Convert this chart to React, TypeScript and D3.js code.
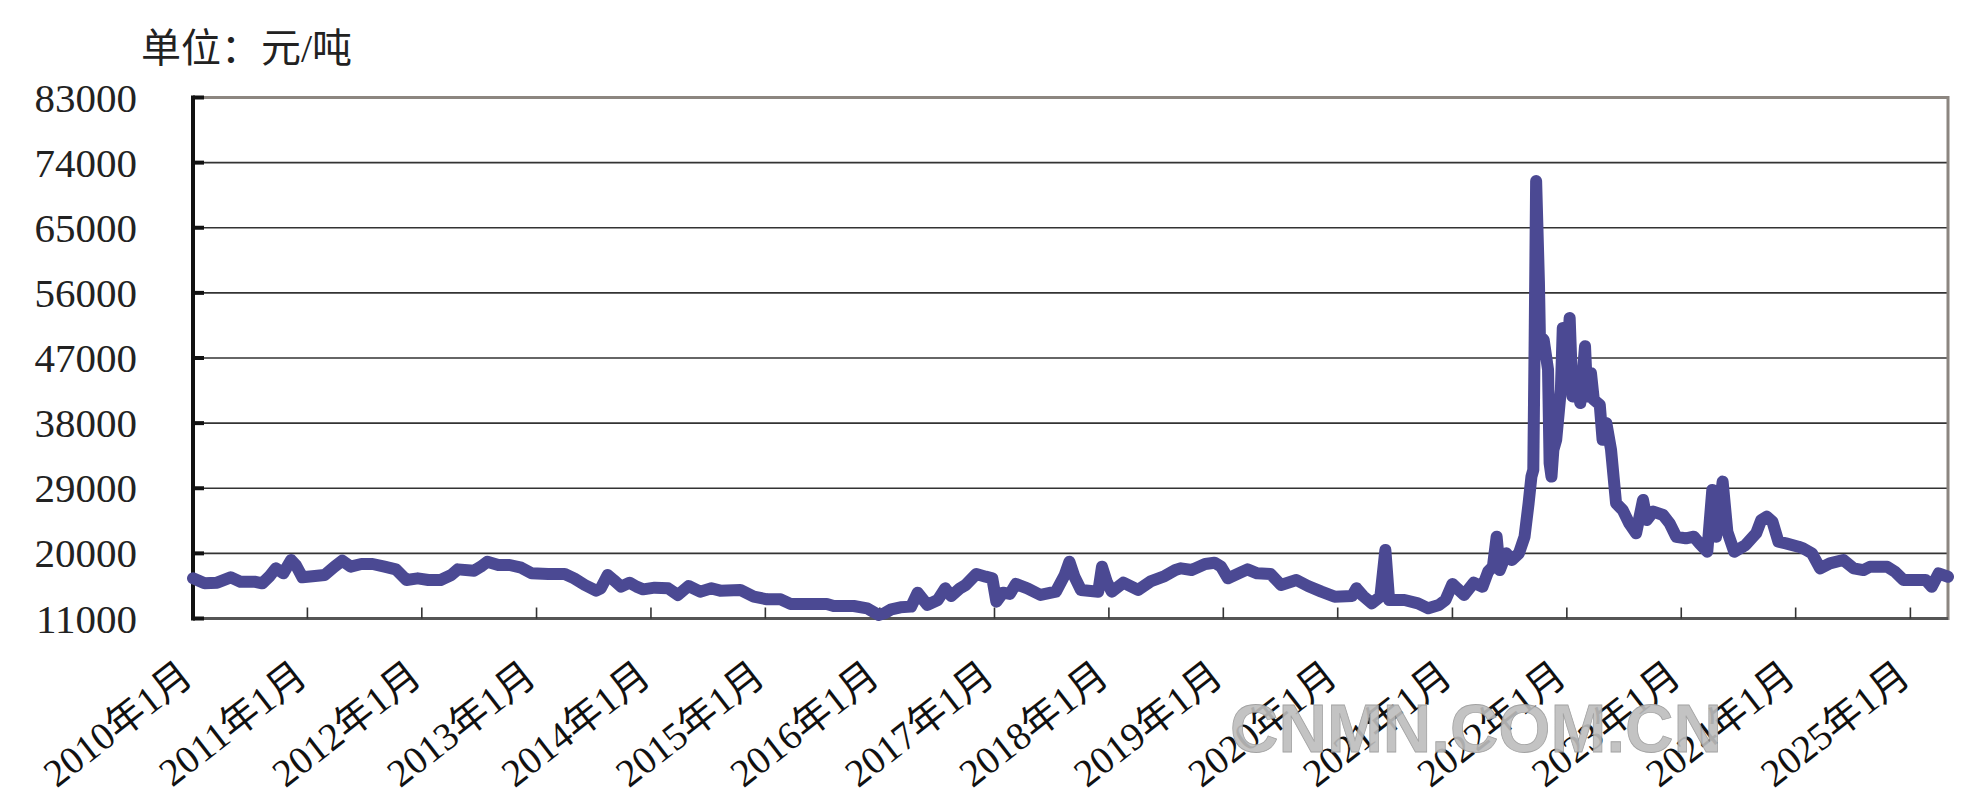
import React from "react";
import * as d3 from "d3";

const dates: string[] = [
  "2010-01-01","2010-02-07","2010-03-19","2010-05-01","2010-06-01","2010-07-16","2010-08-10","2010-09-01","2010-09-22","2010-10-16",
  "2010-11-10","2010-11-25","2010-12-16","2011-01-25","2011-02-25","2011-03-28","2011-04-22","2011-05-19","2011-06-22","2011-07-28",
  "2011-09-04","2011-10-10","2011-11-13","2011-12-19","2012-01-22","2012-03-01","2012-04-04","2012-04-25","2012-06-16","2012-07-07",
  "2012-07-28","2012-09-01","2012-10-07","2012-11-13","2012-12-16","2013-02-07","2013-04-01","2013-05-01","2013-06-04","2013-07-10",
  "2013-07-25","2013-08-16","2013-09-04","2013-09-28","2013-10-25","2013-11-16","2013-12-07","2014-01-13","2014-02-25","2014-03-28",
  "2014-05-01","2014-06-07","2014-07-13","2014-08-10","2014-10-13","2014-11-25","2015-01-07","2015-02-19","2015-03-22","2015-07-16",
  "2015-08-07","2015-10-10","2015-11-22","2015-12-28","2016-01-16","2016-02-07","2016-03-07","2016-04-10","2016-05-01","2016-06-01",
  "2016-07-04","2016-07-28","2016-08-16","2016-09-13","2016-10-01","2016-11-04","2016-12-04","2016-12-25","2017-01-07","2017-01-28",
  "2017-02-19","2017-03-10","2017-04-16","2017-05-28","2017-07-16","2017-08-13","2017-08-28","2017-09-13","2017-10-04","2017-11-28",
  "2017-12-10","2017-12-25","2018-01-10","2018-02-16","2018-04-04","2018-05-16","2018-06-28","2018-08-01","2018-08-19","2018-09-22",
  "2018-11-04","2018-12-04","2018-12-25","2019-01-16","2019-02-19","2019-03-19","2019-04-19","2019-06-01","2019-07-04","2019-08-22",
  "2019-09-28","2019-11-10","2019-12-22","2020-02-16","2020-03-01","2020-03-22","2020-04-19","2020-05-16","2020-06-01","2020-06-13",
  "2020-08-01","2020-09-13","2020-10-16","2020-11-19","2020-12-10","2021-01-01","2021-01-16","2021-02-07","2021-03-10","2021-04-07",
  "2021-04-25","2021-05-10","2021-05-22","2021-06-01","2021-06-22","2021-07-10","2021-08-01","2021-08-19","2021-09-01","2021-09-10",
  "2021-09-16","2021-09-20","2021-09-25","2021-10-04","2021-10-07","2021-10-19","2021-11-02","2021-11-07","2021-11-13","2021-11-19",
  "2021-11-28","2021-12-07","2021-12-13","2021-12-19","2021-12-28","2022-01-10","2022-01-19","2022-02-01","2022-02-13","2022-02-28",
  "2022-03-07","2022-03-19","2022-03-28","2022-04-16","2022-04-25","2022-05-07","2022-05-22","2022-06-07","2022-06-28","2022-07-19",
  "2022-08-10","2022-09-01","2022-09-13","2022-10-04","2022-11-04","2022-11-25","2022-12-16","2023-01-16","2023-02-10","2023-02-28",
  "2023-03-25","2023-04-10","2023-04-22","2023-05-13","2023-05-28","2023-06-19","2023-07-25","2023-08-28","2023-09-13","2023-10-01",
  "2023-10-19","2023-11-07","2023-12-01","2024-01-10","2024-01-25","2024-02-22","2024-03-19","2024-04-19","2024-06-01","2024-07-04",
  "2024-08-04","2024-08-25","2024-10-19","2024-11-13","2024-12-10","2025-02-19","2025-03-10","2025-04-01","2025-05-01"
];

const prices: number[] = [
  16550,15860,15950,16690,16090,16090,15860,16780,17930,17240,
  19080,18390,16690,16870,17010,18160,18990,18160,18530,18530,
  18160,17790,16320,16550,16320,16320,17010,17790,17610,18160,
  18850,18390,18390,18020,17240,17150,17150,16550,15630,14850,
  15170,17010,16320,15400,15950,15400,15030,15260,15170,14250,
  15490,14710,15170,14850,14940,14020,13650,13650,13010,13010,
  12730,12730,12410,11490,11720,12270,12550,12640,14570,12870,
  13560,15170,14110,15170,15630,17150,16780,16550,13330,14570,
  14390,15770,15170,14250,14710,17010,18850,16780,14940,14710,
  18160,16090,14710,15950,14940,16180,16870,17700,17930,17700,
  18530,18710,18160,16550,17240,17790,17240,17150,15630,16320,
  15490,14710,14020,14110,15170,14110,13100,14020,20460,13560,
  13560,13100,12410,12870,13560,15770,15170,14250,15950,15400,
  17500,18160,22300,17700,20000,19080,20000,22300,26920,30610,
  31540,48150,71460,57380,50000,49540,45380,32460,30610,34310,
  35690,39850,42610,51150,43540,52540,41690,43540,40770,48610,
  41690,44920,41230,40540,35690,38000,34310,26920,26000,24150,
  22770,27380,24610,25770,25310,24150,22300,22080,22300,21380,
  20230,28770,22300,29920,23000,20230,21150,22770,24610,25080,
  24380,21610,21380,20920,20690,20000,17920,18620,19080,17920,
  17690,18150,18150,17460,16310,16310,15380,17230,16770
];

const yTicks: number[] = [11000, 20000, 29000, 38000, 47000, 56000, 65000, 74000, 83000];
const xTickYears: number[] = [2010, 2011, 2012, 2013, 2014, 2015, 2016, 2017, 2018, 2019, 2020, 2021, 2022, 2023, 2024, 2025];
const unitLabel = "单位：元/吨";
const watermark = "CNMN.COM.CN";

const W = 1975;
const H = 812;
const left = 193;
const right = 1948;
const top = 97.5;
const bottom = 618.5;

export default function App() {
  const parse = d3.timeParse("%Y-%m-%d");
  const pts = dates.map((d, i) => ({ d: parse(d) as Date, v: prices[i] }));
  const x = d3
    .scaleTime()
    .domain([new Date(2010, 0, 1), new Date(2025, 4, 1)])
    .range([left, right]);
  const y = d3.scaleLinear().domain([11000, 83000]).range([bottom, top]);
  const line = d3
    .line<{ d: Date; v: number }>()
    .x((p) => x(p.d))
    .y((p) => y(p.v));

  const serif = "'Liberation Serif', 'Noto Sans CJK SC', serif";

  return (
    <svg
      width={W}
      height={H}
      style={{ position: "absolute", left: 0, top: 0, background: "#fff" }}
    >
      <rect x={0} y={0} width={W} height={H} fill="#fff" />
      <text x={141} y={62} fontSize={40} fontFamily={serif} fill="#222">
        {unitLabel}
      </text>
      {yTicks.map((t) =>
        t === 11000 || t === 83000 ? null : (
          <line key={"g" + t} x1={left} x2={right} y1={y(t)} y2={y(t)} stroke="#333" strokeWidth={1.6} />
        )
      )}
      {yTicks.map((t) => (
        <text
          key={"yl" + t}
          x={137}
          y={y(t) + 14}
          textAnchor="end"
          fontSize={41}
          fontFamily={serif}
          fill="#222"
        >
          {t}
        </text>
      ))}
      {/* top & right border */}
      <line x1={left} x2={right} y1={top} y2={top} stroke="#8c8680" strokeWidth={3} />
      <line x1={right} x2={right} y1={top - 1.5} y2={bottom + 1.5} stroke="#8c8680" strokeWidth={3} />
      {/* bottom axis */}
      <line x1={left} x2={right} y1={bottom} y2={bottom} stroke="#555" strokeWidth={3} />
      {xTickYears.slice(1).map((yr) => {
        const xx = x(new Date(yr, 0, 1));
        return <line key={"xt" + yr} x1={xx} x2={xx} y1={bottom} y2={bottom - 11} stroke="#333" strokeWidth={1.6} />;
      })}
      {/* left axis */}
      <line x1={left} x2={left} y1={top - 2} y2={bottom + 2} stroke="#111" strokeWidth={4} />
      {yTicks.map((t) => (
        <line key={"yt" + t} x1={left} x2={left + 11} y1={y(t)} y2={y(t)} stroke="#111" strokeWidth={4} />
      ))}
      <path
        d={line(pts) || ""}
        fill="none"
        stroke="#4B4993"
        strokeWidth={12}
        strokeLinejoin="round"
        strokeLinecap="round"
      />
      {xTickYears.map((yr) => {
        const xx = x(new Date(yr, 0, 1));
        return (
          <text
            key={"xl" + yr}
            transform={`translate(${xx + 2},${bottom + 62}) rotate(-38)`}
            textAnchor="end"
            fontSize={39}
            fontFamily={serif}
            fill="#111"
          >
            {`${yr}年1月`}
          </text>
        );
      })}
      <text
        x={1230}
        y={752}
        fontSize={68}
        fontWeight="bold"
        fontFamily="'Liberation Sans', Arial, sans-serif"
        fill="#bdbdbd"
        stroke="#999"
        strokeWidth={0.8}
        opacity={0.9}
        textLength={492}
        lengthAdjust="spacingAndGlyphs"
      >
        {watermark}
      </text>
    </svg>
  );
}
